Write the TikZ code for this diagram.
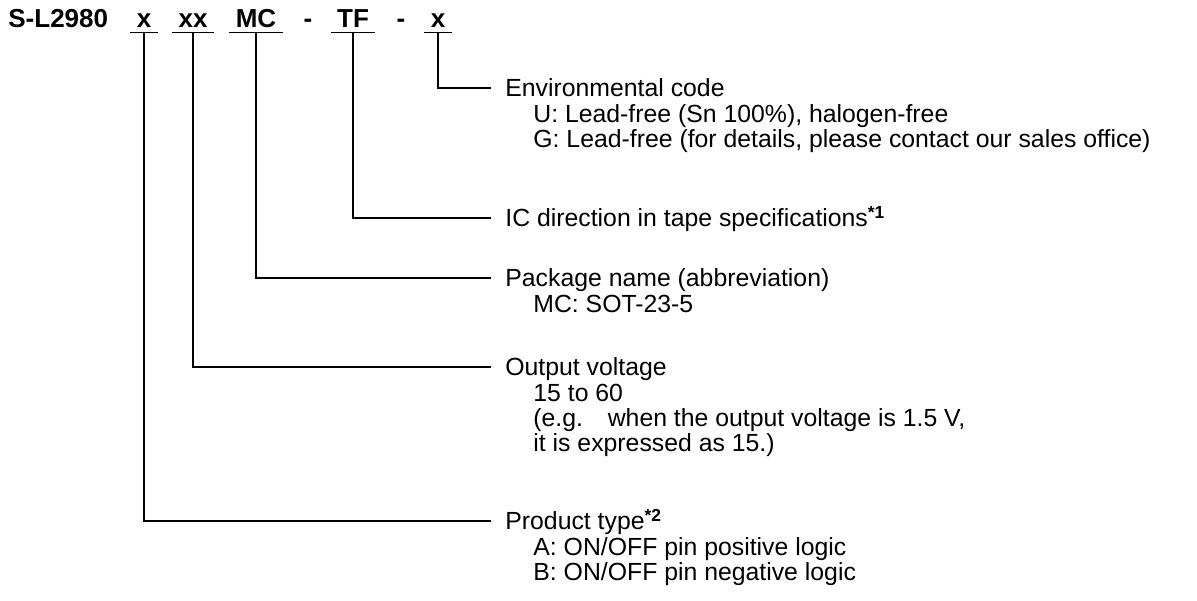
\documentclass[tikz,border=0pt]{standalone}
\usepackage{fontspec}
\setmainfont{Liberation Sans}
\usetikzlibrary{positioning}

\begin{document}
\begin{tikzpicture}[x=0.5pt, y=-0.5pt,
		code/.style={font=\fontsize{13}{15}\selectfont\bfseries, inner xsep=3pt, inner ysep=2.5pt, text depth=0pt, anchor=base},
		head/.style={font=\fontsize{12.4}{12.5}\selectfont, inner xsep=7pt, inner ysep=0pt, text height=8.9pt, text depth=0pt, anchor=west},
		info/.style={font=\fontsize{12.4}{12.5}\selectfont, inner sep=0pt, align=left, below right=3pt and 21pt of #1},
		lead/.style={-, line width=0.8pt}]
		\useasboundingbox (0,0) rectangle (1197,600);
		
		% part number
		\node[code, anchor=base west, inner xsep=0pt] (name) at (8,27) {S-L2980};
		\node[code] (c1) at (144,27) {x};
		\node[code] (c2) at (193,27) {xx};
		\node[code] (c3) at (256,27) {MC};
		\node[code, inner xsep=0pt] (d1) at (308,27) {-};
		\node[code] (c4) at (353,27) {TF};
		\node[code, inner xsep=0pt] (d2) at (401,27) {-};
		\node[code] (c5) at (438,27) {x};
		
		% descriptions
		\node[head] (env) at (491,88) {Environmental code};
		\node[info=env.south west] (envi) {\rule{0pt}{9.5pt}U: Lead-free (Sn 100\%), halogen-free\\G: Lead-free (for details, please contact our sales office)};
		\node[head] (dir) at (491,218) {IC direction in tape specifications\textsuperscript{\textbf{*1}}};
		\node[head] (pkg) at (491,278) {Package name (abbreviation)};
		\node[info=pkg.south west] (pkgi) {\rule{0pt}{9.5pt}MC: SOT-23-5};
		\node[head] (vout) at (491,367) {Output voltage};
		\node[info=vout.south west] (vouti) {\rule{0pt}{9.5pt}15 to 60\\(e.g.\quad when the output voltage is 1.5 V,\\it is expressed as 15.)};
		\node[head] (type) at (491,521) {Product type\textsuperscript{\textbf{*2}}};
		\node[info=type.south west] (typei) {\rule{0pt}{9.5pt}A: ON/OFF pin positive logic\\B: ON/OFF pin negative logic};
		
		\foreach \c in {c1,c2,c3,c4,c5}
			\draw[lead] (\c.south west) -- (\c.south east);
		
		\draw[lead] (c5.south) |- (env.west);
		\draw[lead] (c4.south) |- (dir.west);
		\draw[lead] (c3.south) |- (pkg.west);
		\draw[lead] (c2.south) |- (vout.west);
		\draw[lead] (c1.south) |- (type.west);
\end{tikzpicture}
\end{document}
